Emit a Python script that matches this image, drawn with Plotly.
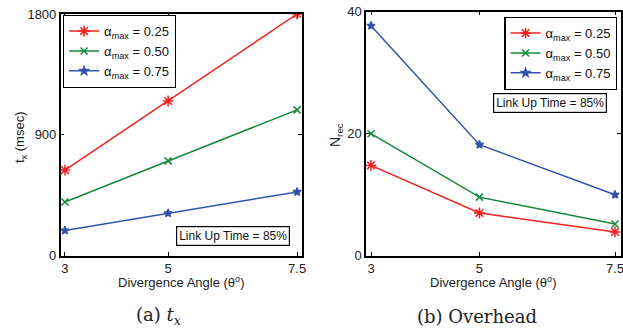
import plotly.graph_objects as go

angles = [3, 5, 7.5]
tx_a025 = [638, 1152, 1800]
tx_a050 = [400, 706, 1086]
tx_a075 = [188, 316, 475]
nrec_a025 = [14.8, 7.0, 3.9]
nrec_a050 = [20.0, 9.6, 5.2]
nrec_a075 = [37.7, 18.2, 10.0]
series_names = ["α<sub>max</sub> = 0.25", "α<sub>max</sub> = 0.50", "α<sub>max</sub> = 0.75"]
colors = ["#f02020", "#13883c", "#3352ad"]
symbols = ["asterisk-open", "x-thin-open", "star"]
sizes = [9, 7, 6]

fig = go.Figure()
for vals, name, c, s, sz in zip([tx_a025, tx_a050, tx_a075], series_names, colors, symbols, sizes):
    fig.add_trace(go.Scatter(x=angles, y=vals, name=name, mode="lines+markers",
                             line=dict(color=c, width=1.5),
                             marker=dict(symbol=s, size=sz, color=c, line=dict(color=c, width=1.5)),
                             xaxis="x", yaxis="y", legend="legend"))
for vals, name, c, s, sz in zip([nrec_a025, nrec_a050, nrec_a075], series_names, colors, symbols, sizes):
    fig.add_trace(go.Scatter(x=angles, y=vals, name=name, mode="lines+markers",
                             line=dict(color=c, width=1.5),
                             marker=dict(symbol=s, size=sz, color=c, line=dict(color=c, width=1.5)),
                             xaxis="x2", yaxis="y2", legend="legend2"))

font_sans = "Liberation Sans, Arial, sans-serif"
axis_common = dict(showline=True, linecolor="black", linewidth=1.5, mirror="ticks",
                   ticks="inside", ticklen=4, tickcolor="black", showgrid=False, zeroline=False,
                   automargin=False, ticklabeloverflow="allow",
                   tickfont=dict(family=font_sans, size=13, color="#222"))

fig.update_layout(
    width=623, height=331,
    margin=dict(l=0, r=0, t=0, b=0, pad=0, autoexpand=False),
    paper_bgcolor="white", plot_bgcolor="white",
    showlegend=True,
    xaxis=dict(domain=[0.0974, 0.4843], range=[2.917, 7.59], tickvals=angles,
               ticktext=["3", "5", "7.5"], anchor="y", **axis_common),
    yaxis=dict(domain=[0.2275, 0.9577], range=[0, 1800], tickvals=[0, 900, 1800],
               anchor="x", **axis_common),
    xaxis2=dict(domain=[0.5875, 0.9968], range=[2.908, 7.61], tickvals=angles,
                ticktext=["3", "5", "7.5"], anchor="y2", **axis_common),
    yaxis2=dict(domain=[0.2275, 0.9647], range=[0, 40], tickvals=[0, 20, 40],
                anchor="x2", **axis_common),
    legend=dict(x=0.101, y=0.955, xanchor="left", yanchor="top", bgcolor="white",
                bordercolor="black", borderwidth=1.2, tracegroupgap=0,
                font=dict(family=font_sans, size=13, color="#111"), itemwidth=30),
    legend2=dict(x=0.991, y=0.949, xanchor="right", yanchor="top", bgcolor="white",
                 bordercolor="black", borderwidth=1.2, tracegroupgap=0,
                 font=dict(family=font_sans, size=13, color="#111"), itemwidth=30),
)

ann = []
lbl = dict(family=font_sans, size=13, color="#222")
ann.append(dict(text="Divergence Angle (θ<sup>o</sup>)", x=181 / 623, y=1 - 282 / 331, xref="paper", yref="paper",
                showarrow=False, font=lbl, xanchor="center", yanchor="middle"))
ann.append(dict(text="Divergence Angle (θ<sup>o</sup>)", x=493 / 623, y=1 - 282 / 331, xref="paper", yref="paper",
                showarrow=False, font=lbl, xanchor="center", yanchor="middle"))
ann.append(dict(text="t<sub>x</sub> (msec)", x=20 / 623, y=1 - 137 / 331, xref="paper", yref="paper",
                showarrow=False, font=dict(family=font_sans, size=13, color="#222"), textangle=-90,
                xanchor="center", yanchor="middle"))
ann.append(dict(text="N<sub>rec</sub>", x=336 / 623, y=1 - 135 / 331, xref="paper", yref="paper",
                showarrow=False, font=dict(family=font_sans, size=14, color="#222"), textangle=-90,
                xanchor="center", yanchor="middle"))
box = dict(family=font_sans, size=12, color="#111")
ann.append(dict(text="Link Up Time = 85%", x=233 / 623, y=1 - 236 / 331, xref="paper", yref="paper",
                showarrow=False, font=box, bordercolor="black", borderwidth=1.2, borderpad=2,
                bgcolor="white", xanchor="center", yanchor="middle"))
ann.append(dict(text="Link Up Time = 85%", x=550 / 623, y=1 - 103 / 331, xref="paper", yref="paper",
                showarrow=False, font=box, bordercolor="black", borderwidth=1.2, borderpad=2,
                bgcolor="white", xanchor="center", yanchor="middle"))
cap = dict(family="DejaVu Serif, serif", size=18, color="#222")
ann.append(dict(text="(a) <i>t<sub>x</sub></i>", x=158 / 623, y=1 - 316 / 331, xref="paper", yref="paper",
                showarrow=False, font=cap, xanchor="center", yanchor="middle"))
ann.append(dict(text="(b) Overhead", x=477 / 623, y=1 - 316 / 331, xref="paper", yref="paper",
                showarrow=False, font=cap, xanchor="center", yanchor="middle"))
fig.update_layout(annotations=ann)

fig.write_html("out.html", config={"displayModeBar": False},
               post_script="document.body.style.margin='0px';document.body.style.overflow='hidden';")
